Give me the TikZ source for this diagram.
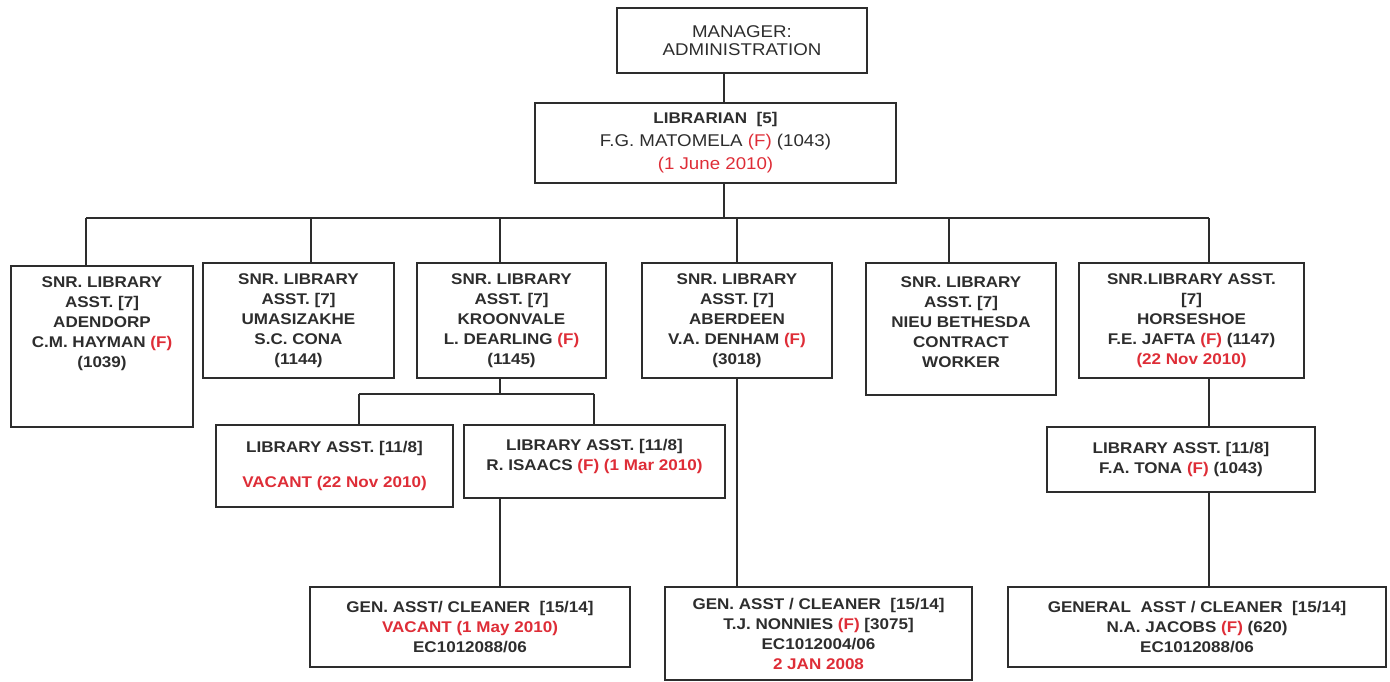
\documentclass[tikz,border=0pt]{standalone}
\usepackage{fontspec}
\setmainfont{Liberation Sans}[FakeStretch=1.1]
\usepackage{tikz}
\usetikzlibrary{positioning}
\definecolor{ink}{RGB}{45,45,45}
\definecolor{memo}{RGB}{222,45,55}
\newcommand{\redtxt}[1]{\textcolor{memo}{#1}}

\begin{document}
\begin{tikzpicture}[x=1pt,y=-1pt,
  post/.style={rectangle, draw=ink, line width=2.2pt, inner sep=0pt, align=center, text=ink,
    font=\bfseries\fontsize{15.5}{20}\selectfont},
  link/.style={draw=ink, line width=1.6pt}]
\useasboundingbox (0,0) rectangle (1390,681);

\node[post, minimum width=250pt, minimum height=65pt, font=\fontsize{17}{18}\selectfont](manager) at (742,40.5) {MANAGER:\\ADMINISTRATION};
\node[post, minimum width=361pt, minimum height=80pt, font=\fontsize{17}{23}\selectfont](librarian) at (715.5,143)
  {{\bfseries\fontsize{15.5}{20}\selectfont LIBRARIAN~~[5]}\\F.G. MATOMELA \redtxt{(F)} (1043)\\\redtxt{(1 June 2010)}};

\coordinate (trunk) at (724,218);
	\draw[link] (manager.south -| trunk) to (librarian.north -| trunk);
	\draw[link] (librarian.south -| trunk) to (trunk);

% senior library assistants
\node[post, minimum width=182pt, minimum height=161pt](adendorp) at (102,346.5)
  {SNR. LIBRARY\\ASST. [7]\\ADENDORP\\C.M. HAYMAN \redtxt{(F)}\\(1039)\\[29pt]\mbox{}};
\node[post, minimum width=191pt, minimum height=115pt](umasizakhe) at (298.5,320.5)
  {SNR. LIBRARY\\ASST. [7]\\UMASIZAKHE\\S.C. CONA\\(1144)};
\node[post, minimum width=189pt, minimum height=115pt](kroonvale) at (511.5,320.5)
  {SNR. LIBRARY\\ASST. [7]\\KROONVALE\\L. DEARLING \redtxt{(F)}\\(1145)};
\node[post, minimum width=190pt, minimum height=115pt](aberdeen) at (737,320.5)
  {SNR. LIBRARY\\ASST. [7]\\ABERDEEN\\V.A. DENHAM \redtxt{(F)}\\(3018)};
\node[post, minimum width=190pt, minimum height=132pt](nieu) at (961,329)
  {SNR. LIBRARY\\ASST. [7]\\NIEU BETHESDA\\CONTRACT\\WORKER\\[-6pt]\mbox{}};
\node[post, minimum width=225pt, minimum height=115pt](horseshoe) at (1191.5,320.5)
  {SNR.LIBRARY ASST.\\{[7]}\\HORSESHOE\\F.E. JAFTA \redtxt{(F)} (1147)\\\redtxt{(22 Nov 2010)}};

\coordinate (bar1) at (86,218);
\coordinate (bar2) at (311,218);
\coordinate (bar3) at (500,218);
\coordinate (bar4) at (737,218);
\coordinate (bar5) at (949,218);
\coordinate (bar6) at (1209,218);
	\draw[link] (bar1) to (bar6);
	\draw[link] (bar1) to (bar1 |- adendorp.north);
	\draw[link] (bar2) to (bar2 |- umasizakhe.north);
	\draw[link] (bar3) to (bar3 |- kroonvale.north);
	\draw[link] (bar4) to (bar4 |- aberdeen.north);
	\draw[link] (bar5) to (bar5 |- nieu.north);
	\draw[link] (bar6) to (bar6 |- horseshoe.north);

% library assistants
\node[post, minimum width=237pt, minimum height=82pt](vacant) at (334.5,466)
  {LIBRARY ASST. [11/8]\\[15pt]\redtxt{VACANT (22 Nov 2010)}};
\node[post, minimum width=261pt, minimum height=73pt](isaacs) at (594.5,461.5)
  {LIBRARY ASST. [11/8]\\R. ISAACS \redtxt{(F) (1 Mar 2010)}\\[-6pt]\mbox{}};
\node[post, minimum width=268pt, minimum height=65pt](tona) at (1181,459.5)
  {LIBRARY ASST. [11/8]\\F.A. TONA \redtxt{(F)} (1043)};

\coordinate (sub) at (500,394);
\coordinate (subL) at (359,394);
\coordinate (subR) at (594,394);
	\draw[link] (kroonvale.south -| sub) to (sub);
	\draw[link] (subL) to (subR);
	\draw[link] (subL) to (subL |- vacant.north);
	\draw[link] (subR) to (subR |- isaacs.north);
	\draw[link] (horseshoe.south -| bar6) to (tona.north -| bar6);

% cleaners
\node[post, minimum width=320pt, minimum height=80pt](cleaner) at (470,627)
  {GEN. ASST/ CLEANER~~[15/14]\\\redtxt{VACANT (1 May 2010)}\\EC1012088/06};
\node[post, minimum width=307pt, minimum height=93pt](nonnies) at (818.5,633.5)
  {GEN. ASST / CLEANER~~[15/14]\\T.J. NONNIES \redtxt{(F)} [3075]\\EC1012004/06\\\redtxt{2 JAN 2008}};
\node[post, minimum width=378pt, minimum height=80pt](jacobs) at (1197,627)
  {GENERAL~ ASST / CLEANER~~[15/14]\\N.A. JACOBS \redtxt{(F)} (620)\\EC1012088/06};

	\draw[link] (isaacs.south -| sub) to (cleaner.north -| sub);
	\draw[link] (aberdeen.south) to (aberdeen.south |- nonnies.north);
	\draw[link] (tona.south -| bar6) to (jacobs.north -| bar6);
\end{tikzpicture}
\end{document}
